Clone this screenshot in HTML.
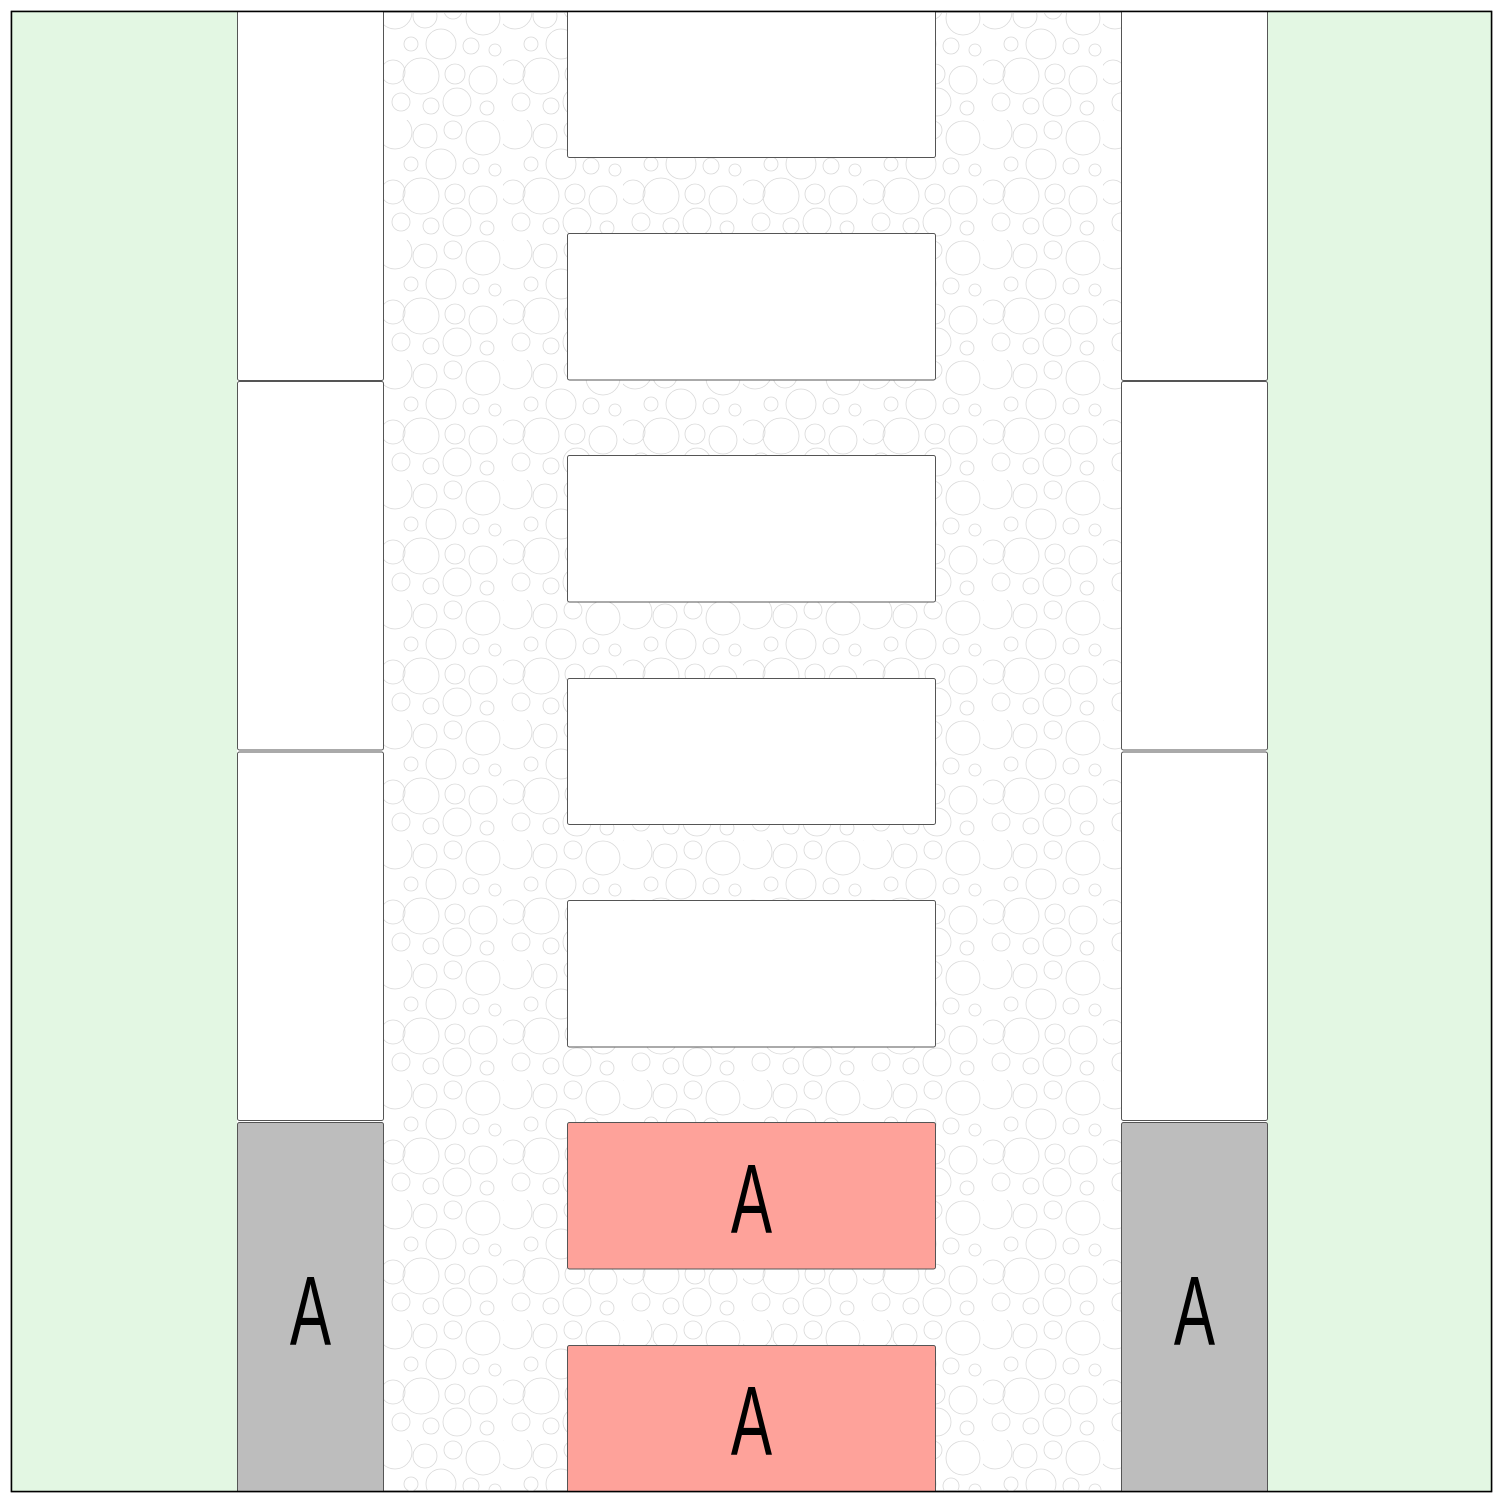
<!DOCTYPE html>
<html><head><style>html,body{margin:0;padding:0;background:#fff}</style></head>
<body>
<svg width="1500" height="1500" xmlns="http://www.w3.org/2000/svg">
<defs>
<pattern id="c" x="383" y="0" width="120" height="120" patternUnits="userSpaceOnUse">
<g fill="none" stroke="#d8d8d8" stroke-width="0.8">
<circle cx="12" cy="12" r="17"/><circle cx="42" cy="16" r="12"/><circle cx="70" cy="10" r="9"/><circle cx="100" cy="18" r="17"/>
<circle cx="28" cy="44" r="7"/><circle cx="58" cy="44" r="15"/><circle cx="88" cy="46" r="8"/><circle cx="112" cy="50" r="6"/>
<circle cx="10" cy="72" r="12"/><circle cx="38" cy="76" r="18"/><circle cx="72" cy="74" r="10"/><circle cx="100" cy="80" r="14"/>
<circle cx="18" cy="102" r="9"/><circle cx="48" cy="106" r="8"/><circle cx="74" cy="102" r="14"/><circle cx="104" cy="108" r="7"/>
</g></pattern>
<clipPath id="f"><rect x="12" y="12" width="1479" height="1479"/></clipPath>
</defs>
<rect x="11.5" y="11.5" width="1480" height="1480" fill="#fff" stroke="#000" stroke-width="1.5"/>
<g clip-path="url(#f)">
<rect x="12" y="12" width="225" height="1479" fill="#e3f7e3"/>
<rect x="1267" y="12" width="224" height="1479" fill="#e3f7e3"/>
<rect x="383" y="12" width="738" height="1479" fill="url(#c)"/>
<g stroke="#555" stroke-width="1">
<rect x="237.5" y="8" width="146" height="372.5" rx="2" fill="#fff"/>
<rect x="237.5" y="381.5" width="146" height="368.5" rx="2" fill="#fff"/>
<rect x="237.5" y="752" width="146" height="368.5" rx="2" fill="#fff"/>
<rect x="237.5" y="1122.5" width="146" height="372" rx="2" fill="#bdbdbd"/>
<rect x="1121.5" y="8" width="146" height="372.5" rx="2" fill="#fff"/>
<rect x="1121.5" y="381.5" width="146" height="368.5" rx="2" fill="#fff"/>
<rect x="1121.5" y="752" width="146" height="368.5" rx="2" fill="#fff"/>
<rect x="1121.5" y="1122.5" width="146" height="372" rx="2" fill="#bdbdbd"/>
<rect x="567.5" y="8" width="368" height="149.5" rx="2" fill="#fff"/>
<rect x="567.5" y="233.5" width="368" height="146.5" rx="2" fill="#fff"/>
<rect x="567.5" y="455.5" width="368" height="146.5" rx="2" fill="#fff"/>
<rect x="567.5" y="678.5" width="368" height="146" rx="2" fill="#fff"/>
<rect x="567.5" y="900.5" width="368" height="146.5" rx="2" fill="#fff"/>
<rect x="567.5" y="1122.5" width="368" height="146.5" rx="2" fill="#fea29a"/>
<rect x="567.5" y="1345.5" width="368" height="150" rx="2" fill="#fea29a"/>
</g>
</g>
<rect x="11.5" y="11.5" width="1480" height="1480" fill="none" stroke="#000" stroke-width="1.5"/>
<g font-family="'Liberation Sans', sans-serif" font-size="98" text-anchor="middle" fill="#000">
<text transform="translate(751.5,1233) scale(0.63,1)">A</text>
<text transform="translate(751.5,1455) scale(0.63,1)">A</text>
<text transform="translate(310.5,1345) scale(0.63,1)">A</text>
<text transform="translate(1194.5,1345) scale(0.63,1)">A</text>
</g>
</svg>
</body></html>
